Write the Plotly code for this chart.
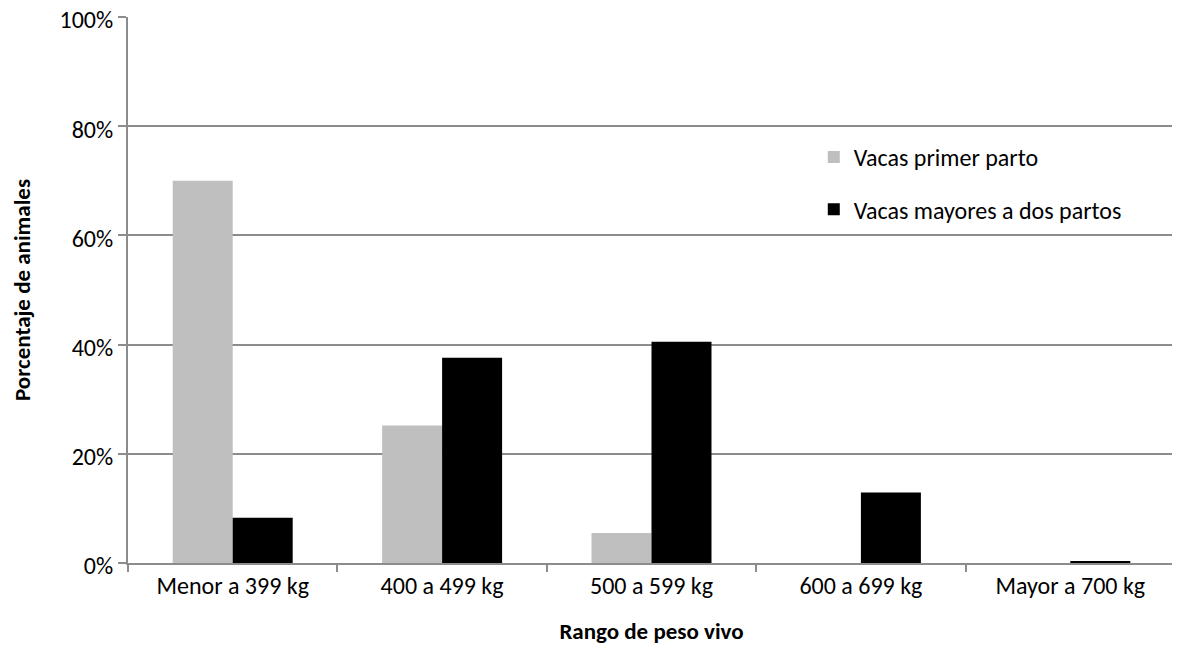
import plotly.graph_objects as go

categories = ["Menor a 399 kg", "400 a 499 kg", "500 a 599 kg", "600 a 699 kg", "Mayor a 700 kg"]
primer_parto = [70.0, 25.2, 5.5, 0.0, 0.0]
mayores_dos_partos = [8.3, 37.6, 40.5, 12.9, 0.3]
y_ticks = [0, 20, 40, 60, 80, 100]
y_tick_labels = ["0%", "20%", "40%", "60%", "80%", "100%"]

FONT = "Carlito, Lato, sans-serif"

fig = go.Figure()
fig.add_trace(go.Bar(x=categories, y=primer_parto, name="Vacas primer parto",
                     marker=dict(color="#BFBFBF", line=dict(width=0)),
                     legendgroup="a"))
fig.add_trace(go.Bar(x=categories, y=mayores_dos_partos, name="Vacas mayores a dos partos",
                     marker=dict(color="#000000", line=dict(width=0)),
                     legendgroup="b"))

fig.update_layout(
    width=1180, height=651,
    margin=dict(l=120, r=13, t=9, b=96),
    paper_bgcolor="white", plot_bgcolor="white",
    barmode="group", bargap=0.427, bargroupgap=0,
    font=dict(family=FONT, size=24, color="#000000"),
    legend=dict(x=0.655, y=0.784, xanchor="left", yanchor="top",
                bgcolor="rgba(0,0,0,0)", font=dict(size=24, family=FONT),
                traceorder="grouped", tracegroupgap=18, itemwidth=30),
    showlegend=True,
)
fig.update_xaxes(
    type="category", automargin=False,
    showline=True, linecolor="#8c8c8c", linewidth=2,
    ticks="outside", tickson="boundaries", ticklen=7, tickcolor="#8c8c8c", tickwidth=2,
    showgrid=False,
    tickfont=dict(size=24, family=FONT),
    ticklabeloverflow="allow",
    title=dict(text="<b>Rango de peso vivo</b>", font=dict(size=23, family=FONT), standoff=24),
)
fig.update_yaxes(
    range=[0, 100], automargin=False,
    tickvals=y_ticks, ticktext=y_tick_labels,
    showline=True, linecolor="#8c8c8c", linewidth=2,
    ticks="outside", ticklen=8, tickcolor="#8c8c8c", tickwidth=2,
    showgrid=True, gridcolor="#8c8c8c", gridwidth=2,
    zeroline=False,
    tickfont=dict(size=24, family=FONT),
    ticklabeloverflow="allow", ticklabelshift=3,
    title=dict(text="<b>Porcentaje de animales</b>", font=dict(size=23, family=FONT), standoff=38),
)

fig.write_html("out.html")
